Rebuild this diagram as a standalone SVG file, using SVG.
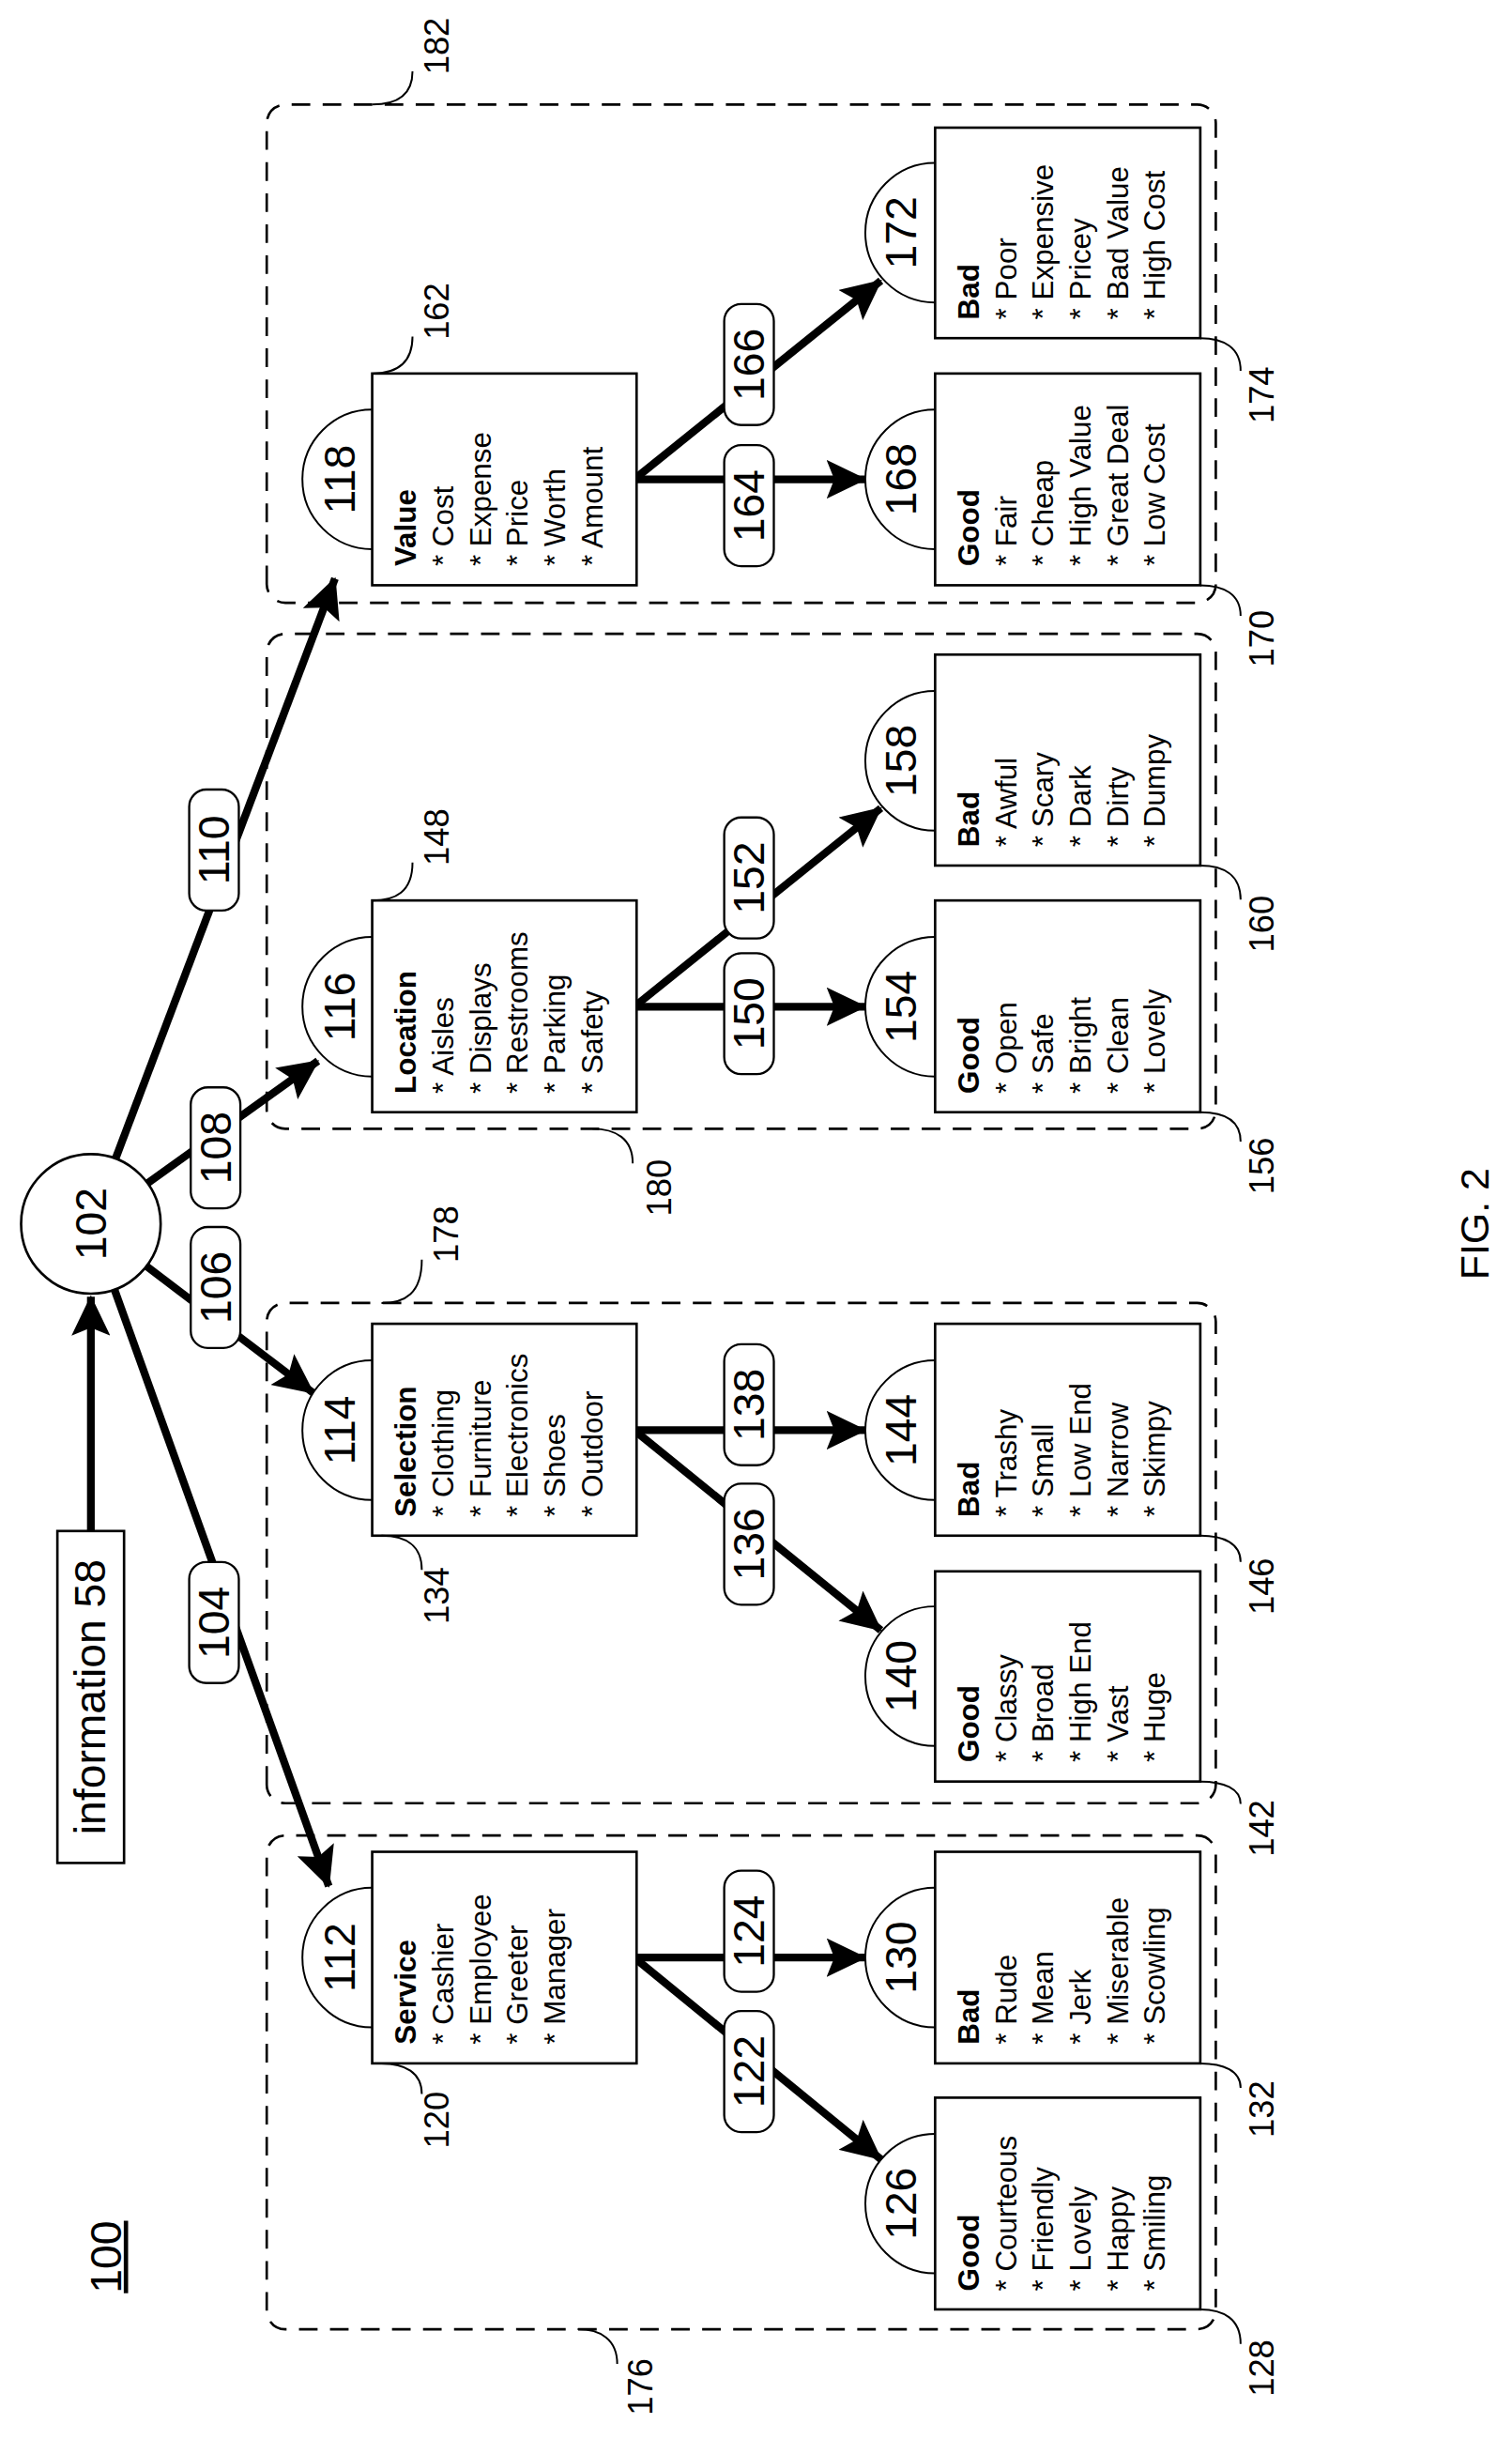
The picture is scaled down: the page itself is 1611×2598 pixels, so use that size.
<svg xmlns="http://www.w3.org/2000/svg" width="1611" height="2598" viewBox="0 0 1611 2598">
<style>
text{font-family:"Liberation Sans",Arial,sans-serif;fill:#000}
.it{font-size:19px;dominant-baseline:central}
.hd{font-size:19px;font-weight:bold;dominant-baseline:central}
.num{font-size:28px;text-anchor:middle;dominant-baseline:central}
.ref{font-size:22px;dominant-baseline:central}
.box{fill:#fff;stroke:#000;stroke-width:1.6}
.tab{fill:#fff;stroke:#000;stroke-width:1.2}
.grp{fill:none;stroke:#000;stroke-width:1.6;stroke-dasharray:12 8}
.ar{fill:none;stroke:#000;stroke-width:5;marker-end:url(#ah)}
.lb{fill:#fff;stroke:#000;stroke-width:1.4}
.ld{fill:none;stroke:#000;stroke-width:1.2}
</style>
<defs>
<marker id="ah" markerWidth="5.2" markerHeight="5" refX="5" refY="2.5" orient="auto" markerUnits="strokeWidth">
<path d="M0,0 L5.2,2.5 L0,5 L1,2.5 Z" fill="#000"/>
</marker>
</defs>
<rect width="1611" height="2598" fill="#fff"/>
<g transform="scale(1.6523) translate(0,1572) rotate(-90)">
<g id="groups">
<rect class="grp" x="70.4" y="172" width="318.3" height="612" rx="12"/>
<rect class="grp" x="409.5" y="172" width="322.5" height="612" rx="12"/>
<rect class="grp" x="844.3" y="172" width="319.1" height="612" rx="12"/>
<rect class="grp" x="1183.4" y="172" width="321.2" height="612" rx="12"/>
</g>
<g id="connectors">
<path class="ar" d="M585,58.6 L736,58.6"/>
<path class="ar" d="M783,58.6 L356,212"/>
<path class="ar" d="M783,58.6 L674,202"/>
<path class="ar" d="M783,58.6 L888,205"/>
<path class="ar" d="M783,58.6 L1199,216"/>
<path class="ar" d="M310,409 L310,558"/>
<path class="ar" d="M310,409 L180,568"/>
<path class="ar" d="M650,409 L650,558"/>
<path class="ar" d="M650,409 L521,568"/>
<path class="ar" d="M923,409 L923,558"/>
<path class="ar" d="M923,409 L1051,568"/>
<path class="ar" d="M1263,409 L1263,558"/>
<path class="ar" d="M1263,409 L1391,568"/>
<g id="edge-labels">
<rect class="lb" x="487" y="122" width="78" height="32" rx="11"/><text class="num" x="526" y="138">104</text>
<rect class="lb" x="703" y="123" width="78" height="32" rx="11"/><text class="num" x="742" y="139">106</text>
<rect class="lb" x="793" y="123" width="78" height="32" rx="11"/><text class="num" x="832" y="139">108</text>
<rect class="lb" x="985" y="122" width="78" height="32" rx="11"/><text class="num" x="1024" y="138">110</text>
<rect class="lb" x="288" y="467" width="78" height="32" rx="11"/><text class="num" x="327" y="483">124</text>
<rect class="lb" x="197.5" y="467" width="78" height="32" rx="11"/><text class="num" x="236.5" y="483">122</text>
<rect class="lb" x="627.4" y="467" width="78" height="32" rx="11"/><text class="num" x="666.4" y="483">138</text>
<rect class="lb" x="537.5" y="467" width="78" height="32" rx="11"/><text class="num" x="576.5" y="483">136</text>
<rect class="lb" x="879.5" y="467" width="78" height="32" rx="11"/><text class="num" x="918.5" y="483">150</text>
<rect class="lb" x="967" y="467" width="78" height="32" rx="11"/><text class="num" x="1006" y="483">152</text>
<rect class="lb" x="1207" y="467" width="78" height="32" rx="11"/><text class="num" x="1246" y="483">164</text>
<rect class="lb" x="1298" y="467" width="78" height="32" rx="11"/><text class="num" x="1337" y="483">166</text>
</g>
</g>
<g id="n100"><text x="117" y="78" font-size="28" text-anchor="middle" text-decoration="underline">100</text></g>
<g id="n58"><rect class="box" x="371" y="37" width="214" height="43"/><text x="478" y="68" font-size="28" text-anchor="middle">information 58</text></g>
<g id="n102"><circle class="box" cx="783" cy="58.6" r="45"/><text class="num" x="783" y="58.6">102</text></g>

<g id="n112"><path class="tab" d="M265,240 A45 45 0 0 1 355,240"/><text class="num" x="310" y="219">112</text>
<rect class="box" x="241.8" y="240" width="136.4" height="170.5"/>
<text class="hd" x="254" y="262">Service</text><text class="it" x="254" y="286">* Cashier</text><text class="it" x="254" y="310">* Employee</text><text class="it" x="254" y="334">* Greeter</text><text class="it" x="254" y="358">* Manager</text></g>
<g id="n114"><path class="tab" d="M605,240 A45 45 0 0 1 695,240"/><text class="num" x="650" y="219">114</text>
<rect class="box" x="582" y="240" width="136.6" height="170.5"/>
<text class="hd" x="594" y="262">Selection</text><text class="it" x="594" y="286">* Clothing</text><text class="it" x="594" y="310">* Furniture</text><text class="it" x="594" y="334">* Electronics</text><text class="it" x="594" y="358">* Shoes</text><text class="it" x="594" y="382">* Outdoor</text></g>
<g id="n116"><path class="tab" d="M878,240 A45 45 0 0 1 968,240"/><text class="num" x="923" y="219">116</text>
<rect class="box" x="855" y="240" width="136.5" height="170.5"/>
<text class="hd" x="867" y="262">Location</text><text class="it" x="867" y="286">* Aisles</text><text class="it" x="867" y="310">* Displays</text><text class="it" x="867" y="334">* Restrooms</text><text class="it" x="867" y="358">* Parking</text><text class="it" x="867" y="382">* Safety</text></g>
<g id="n118"><path class="tab" d="M1218,240 A45 45 0 0 1 1308,240"/><text class="num" x="1263" y="219">118</text>
<rect class="box" x="1194.7" y="240" width="136.5" height="170.5"/>
<text class="hd" x="1207" y="262">Value</text><text class="it" x="1207" y="286">* Cost</text><text class="it" x="1207" y="310">* Expense</text><text class="it" x="1207" y="334">* Price</text><text class="it" x="1207" y="358">* Worth</text><text class="it" x="1207" y="382">* Amount</text></g>

<g id="n126"><path class="tab" d="M106.4,603 A45 45 0 0 1 196.4,603"/><text class="num" x="151.4" y="581">126</text>
<rect class="box" x="83.2" y="603" width="136.5" height="171"/>
<text class="hd" x="95" y="625">Good</text><text class="it" x="95" y="649">* Courteous</text><text class="it" x="95" y="673">* Friendly</text><text class="it" x="95" y="697">* Lovely</text><text class="it" x="95" y="721">* Happy</text><text class="it" x="95" y="745">* Smiling</text></g>
<g id="n130"><path class="tab" d="M265,603 A45 45 0 0 1 355,603"/><text class="num" x="310" y="581">130</text>
<rect class="box" x="241.8" y="603" width="136.4" height="171"/>
<text class="hd" x="254" y="625">Bad</text><text class="it" x="254" y="649">* Rude</text><text class="it" x="254" y="673">* Mean</text><text class="it" x="254" y="697">* Jerk</text><text class="it" x="254" y="721">* Miserable</text><text class="it" x="254" y="745">* Scowling</text></g>
<g id="n140"><path class="tab" d="M446.4,603 A45 45 0 0 1 536.4,603"/><text class="num" x="491.4" y="581">140</text>
<rect class="box" x="423.5" y="603" width="135.5" height="171"/>
<text class="hd" x="436" y="625">Good</text><text class="it" x="436" y="649">* Classy</text><text class="it" x="436" y="673">* Broad</text><text class="it" x="436" y="697">* High End</text><text class="it" x="436" y="721">* Vast</text><text class="it" x="436" y="745">* Huge</text></g>
<g id="n144"><path class="tab" d="M605,603 A45 45 0 0 1 695,603"/><text class="num" x="650" y="581">144</text>
<rect class="box" x="582" y="603" width="136.6" height="171"/>
<text class="hd" x="594" y="625">Bad</text><text class="it" x="594" y="649">* Trashy</text><text class="it" x="594" y="673">* Small</text><text class="it" x="594" y="697">* Low End</text><text class="it" x="594" y="721">* Narrow</text><text class="it" x="594" y="745">* Skimpy</text></g>
<g id="n154"><path class="tab" d="M878,603 A45 45 0 0 1 968,603"/><text class="num" x="923" y="581">154</text>
<rect class="box" x="855" y="603" width="136.5" height="171"/>
<text class="hd" x="867" y="625">Good</text><text class="it" x="867" y="649">* Open</text><text class="it" x="867" y="673">* Safe</text><text class="it" x="867" y="697">* Bright</text><text class="it" x="867" y="721">* Clean</text><text class="it" x="867" y="745">* Lovely</text></g>
<g id="n158"><path class="tab" d="M1036.5,603 A45 45 0 0 1 1126.5,603"/><text class="num" x="1081.5" y="581">158</text>
<rect class="box" x="1014" y="603" width="136" height="171"/>
<text class="hd" x="1026" y="625">Bad</text><text class="it" x="1026" y="649">* Awful</text><text class="it" x="1026" y="673">* Scary</text><text class="it" x="1026" y="697">* Dark</text><text class="it" x="1026" y="721">* Dirty</text><text class="it" x="1026" y="745">* Dumpy</text></g>
<g id="n168"><path class="tab" d="M1218,603 A45 45 0 0 1 1308,603"/><text class="num" x="1263" y="581">168</text>
<rect class="box" x="1194.7" y="603" width="136.5" height="171"/>
<text class="hd" x="1207" y="625">Good</text><text class="it" x="1207" y="649">* Fair</text><text class="it" x="1207" y="673">* Cheap</text><text class="it" x="1207" y="697">* High Value</text><text class="it" x="1207" y="721">* Great Deal</text><text class="it" x="1207" y="745">* Low Cost</text></g>
<g id="n172"><path class="tab" d="M1377,603 A45 45 0 0 1 1467,603"/><text class="num" x="1422" y="581">172</text>
<rect class="box" x="1354" y="603" width="135.7" height="171"/>
<text class="hd" x="1366" y="625">Bad</text><text class="it" x="1366" y="649">* Poor</text><text class="it" x="1366" y="673">* Expensive</text><text class="it" x="1366" y="697">* Pricey</text><text class="it" x="1366" y="721">* Bad Value</text><text class="it" x="1366" y="745">* High Cost</text></g>

<g id="refs">
<path class="ld" d="M1504.6,240 C1504.6,255 1510,266 1526,266"/><text class="ref" x="1524" y="282">182</text>
<path class="ld" d="M1331.2,240 C1331.2,255 1337,266 1355,266"/><text class="ref" x="1353" y="282">162</text>
<path class="ld" d="M991.5,240 C991.5,255 997,266 1016,266"/><text class="ref" x="1014" y="282">148</text>
<path class="ld" d="M732,246 C732,261 738,272 760,272"/><text class="ref" x="758" y="288">178</text>
<path class="ld" d="M582,246 C582,261 576,272 560,272"/><text class="ref" x="525" y="282">134</text>
<path class="ld" d="M241.8,246 C241.8,261 236,272 222,272"/><text class="ref" x="187" y="282">120</text>
<path class="ld" d="M844.3,382 C844.3,397 838,408 822,408"/><text class="ref" x="788" y="425">180</text>
<path class="ld" d="M70.4,372.5 C70.4,387 64,398 48,398"/><text class="ref" x="15" y="413">176</text>
<path class="ld" d="M1354,774 C1354,789 1348,800 1333,800"/><text class="ref" x="1299" y="814">174</text>
<path class="ld" d="M1194.7,774 C1194.7,789 1189,800 1175,800"/><text class="ref" x="1142" y="814">170</text>
<path class="ld" d="M1014,774 C1014,789 1008,800 992,800"/><text class="ref" x="958" y="814">160</text>
<path class="ld" d="M855,774 C855,789 850,800 836,800"/><text class="ref" x="802" y="814">156</text>
<path class="ld" d="M582,774 C582,789 577,800 565,800"/><text class="ref" x="531" y="814">146</text>
<path class="ld" d="M423.5,774 C423.5,789 419,800 409,800"/><text class="ref" x="375" y="814">142</text>
<path class="ld" d="M241.8,774 C241.8,789 237,800 226,800"/><text class="ref" x="194" y="814">132</text>
<path class="ld" d="M83.2,774 C83.2,789 77,800 61,800"/><text class="ref" x="27" y="814">128</text>
<text x="783" y="960" font-size="26" text-anchor="middle">FIG. 2</text>
</g>
</g>
</svg>
